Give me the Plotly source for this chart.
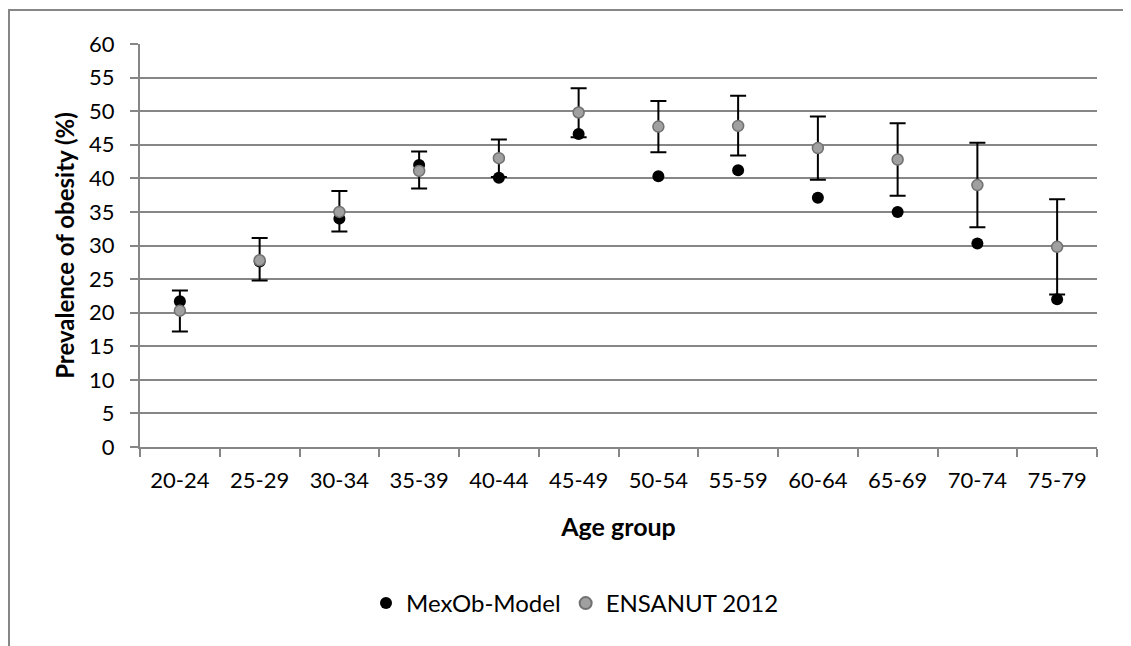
import plotly.graph_objects as go

age_groups = ["20-24", "25-29", "30-34", "35-39", "40-44", "45-49",
              "50-54", "55-59", "60-64", "65-69", "70-74", "75-79"]
mexob_model = [21.7, 27.6, 34.0, 42.0, 40.1, 46.6, 40.3, 41.2, 37.1, 35.0, 30.3, 22.0]
ensanut_2012 = [20.3, 27.8, 35.0, 41.1, 43.0, 49.8, 47.7, 47.8, 44.5, 42.8, 39.0, 29.8]
ensanut_upper = [23.3, 31.1, 38.1, 44.0, 45.8, 53.4, 51.5, 52.3, 49.2, 48.2, 45.3, 36.9]
ensanut_lower = [17.2, 24.8, 32.1, 38.5, 40.2, 46.1, 43.9, 43.4, 39.8, 37.4, 32.7, 22.7]
y_ticks = list(range(0, 61, 5))

err_plus = [u - v for u, v in zip(ensanut_upper, ensanut_2012)]
err_minus = [v - l for v, l in zip(ensanut_2012, ensanut_lower)]

FONT = "Lato"

fig = go.Figure()
fig.add_trace(go.Scatter(
    x=age_groups, y=mexob_model, mode="markers", name="MexOb-Model",
    marker=dict(color="black", size=12, line=dict(width=0)),
))
fig.add_trace(go.Scatter(
    x=age_groups, y=ensanut_2012, mode="markers", name="ENSANUT 2012",
    marker=dict(color="#a0a0a0", size=11, line=dict(color="#707070", width=1.5)),
    error_y=dict(type="data", symmetric=False, array=err_plus, arrayminus=err_minus,
                 color="black", thickness=2, width=8),
))

# page body has an 8px margin; plot area in the photo spans x 140-1097, y 44-447
ML, MT = 132, 36
PW, PH = 957, 403

fig.update_layout(
    width=1131, height=646,
    paper_bgcolor="white", plot_bgcolor="white",
    margin=dict(l=ML, r=1131 - ML - PW, t=MT, b=646 - MT - PH),
    font=dict(family=FONT, size=22, color="black"),
    showlegend=True,
    legend=dict(orientation="h", x=(567 - ML) / PW, xanchor="center",
                y=-(595 - 22 - (MT + PH)) / PH, yanchor="top",
                font=dict(size=24), itemsizing="constant", traceorder="normal"),
    xaxis=dict(
        type="category", range=[-0.5, 11.5], tickson="boundaries",
        showline=True, linecolor="#868686", linewidth=2,
        ticks="outside", ticklen=8, tickcolor="#868686", tickwidth=2,
        showgrid=False, zeroline=False, ticklabelstandoff=13,
        title=dict(text="<b>Age group</b>", font=dict(size=25), standoff=26),
    ),
    yaxis=dict(
        range=[0, 60], tickvals=y_ticks,
        showline=True, linecolor="#868686", linewidth=2,
        ticks="outside", ticklen=8, tickcolor="#868686", tickwidth=2,
        showgrid=True, gridcolor="#868686", gridwidth=2, zeroline=False,
        ticklabelstandoff=11,
        title=dict(text="<b>Prevalence of obesity (%)</b>", font=dict(size=24), standoff=8),
    ),
    shapes=[dict(type="rect", xref="paper", yref="paper",
                 x0=(1 - ML) / PW, x1=1.3, y0=-1.0, y1=1 + (MT - 2) / PH,
                 line=dict(color="#868686", width=2), layer="below")],
)

fig.write_html("out.html")
